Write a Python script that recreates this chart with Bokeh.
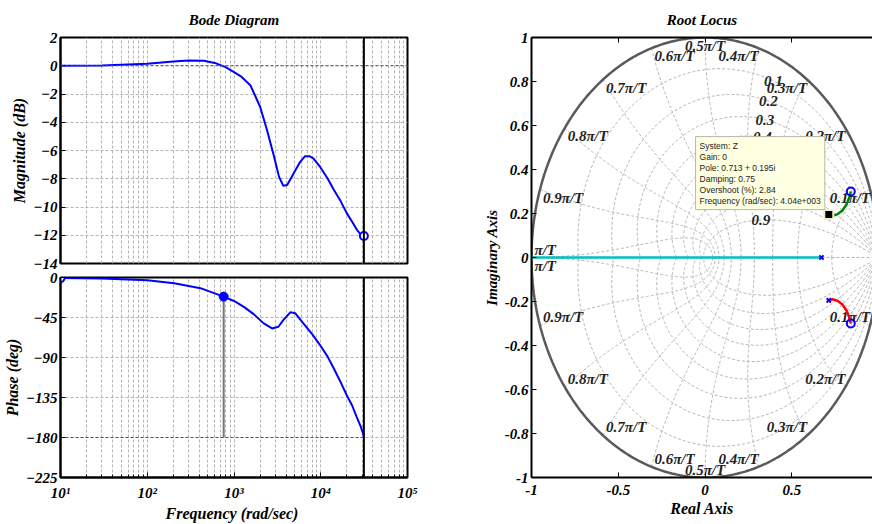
import numpy as np
from bokeh.plotting import figure
from bokeh.layouts import row, column
from bokeh.models import FixedTicker, Span, Label, LinearAxis
from bokeh.embed import file_html
from bokeh.resources import INLINE

# ---------------- Bode data ----------------
freq_mag = [10, 30, 100, 200, 300, 450, 600, 800, 1000, 1200, 1550, 2000, 2400, 2900, 3300,
            3700, 4100, 4600, 5100, 5800, 6600, 7400, 8200, 9800, 12000, 14200, 17000, 20000,
            23000, 26000, 29000, 31416]
mag_db = [0, 0.02, 0.14, 0.3, 0.38, 0.35, 0.2, -0.1, -0.45, -0.75, -1.4, -2.9, -4.55, -6.45, -7.85,
          -8.5, -8.45, -7.9, -7.4, -6.8, -6.4, -6.4, -6.55, -7.15, -7.98, -8.8, -9.6, -10.45,
          -11.05, -11.6, -11.95, -12.05]
freq_phase = [10, 30, 100, 205, 410, 760, 1000, 1300, 1700, 2200, 2750, 3250, 3700, 4450, 5100,
              6300, 8000, 9800, 12000, 14200, 17000, 20000, 23000, 26000, 29000, 31416]
phase_deg = [-0.7, -1.0, -3, -6.4, -12, -21.5, -26.4, -33, -41.5, -51.6, -57.3, -55.4, -48, -39.2,
             -40.3, -51.6, -64, -76, -89, -102.6, -118, -132.8, -144, -157, -168, -178.5]
nyquist_freq = 31416
margin_freq = 760
margin_phase = -21.5
mag_ticks = [2, 0, -2, -4, -6, -8, -10, -12, -14]
phase_ticks = [0, -45, -90, -135, -180, -225]
freq_ticks = [10, 100, 1000, 10000, 100000]
freq_tick_labels = ["10\u00b9", "10\u00b2", "10\u00b3", "10\u2074", "10\u2075"]
freq_minor = [m * d for d in [10, 100, 1000, 10000] for m in range(2, 10)]

# ---------------- Root locus data ----------------
damping_ratios = [0.1, 0.2, 0.3, 0.4, 0.5, 0.6, 0.7, 0.8, 0.9]
damping_labels = ["0.1", "0.2", "0.3", "0.4", "0.5", "0.6", "0.7", "0.8", "0.9"]
wn_fractions = [0.1, 0.2, 0.3, 0.4, 0.5, 0.6, 0.7, 0.8, 0.9, 1.0]
wn_labels = ["0.1\u03c0/T", "0.2\u03c0/T", "0.3\u03c0/T", "0.4\u03c0/T", "0.5\u03c0/T",
             "0.6\u03c0/T", "0.7\u03c0/T", "0.8\u03c0/T", "0.9\u03c0/T", "\u03c0/T"]
damping_label_wnT = 1.12
poles_re = [0.671, 0.713, 0.713]
poles_im = [0.0, 0.195, -0.195]
zeros_re = [0.84, 0.84]
zeros_im = [0.30, -0.30]
branch_re = [0.713, 0.735, 0.762, 0.792, 0.816, 0.831, 0.84]
branch_im = [0.195, 0.190, 0.196, 0.214, 0.242, 0.272, 0.30]
real_branch_re = [-1.0, 0.671]
real_branch_im = [0.0, 0.0]
tip_re, tip_im = 0.713, 0.195
tip_lines = ["System: Z", "Gain: 0", "Pole: 0.713 + 0.195i", "Damping: 0.75",
             "Overshoot (%): 2.84", "Frequency (rad/sec): 4.04e+003"]
rl_x_ticks = [-1, -0.5, 0, 0.5]
rl_x_labels = ["-1", "-0.5", "0", "0.5"]
rl_y_ticks = [-1, -0.8, -0.6, -0.4, -0.2, 0, 0.2, 0.4, 0.6, 0.8, 1]
rl_y_labels = ["-1", "-0.8", "-0.6", "-0.4", "-0.2", "0", "0.2", "0.4", "0.6", "0.8", "1"]

SERIF = "Liberation Serif"
GRID = "#b4b4b4"


def style_axes(p):
    for ax in p.axis:
        ax.major_label_text_font = SERIF
        ax.major_label_text_font_style = "bold italic"
        ax.major_label_text_font_size = "15px"
        ax.major_label_text_color = "black"
        ax.axis_label_text_font = SERIF
        ax.axis_label_text_font_style = "bold italic"
        ax.axis_label_text_font_size = "16px"
        ax.axis_label_text_color = "black"
        ax.major_tick_in = 5
        ax.major_tick_out = 0
        ax.minor_tick_in = 3
        ax.minor_tick_out = 0
        ax.axis_line_width = 2
        ax.major_tick_line_width = 1
        ax.major_label_standoff = 3
        ax.axis_label_standoff = 2
    p.title.text_font = SERIF
    p.title.text_font_style = "bold italic"
    p.title.text_font_size = "15px"
    p.title.text_color = "black"
    p.title.align = "center"
    p.title.standoff = 19


# ---------------- Magnitude ----------------
mag = figure(frame_width=347, frame_height=226, min_border_left=60, min_border_right=49,
             min_border_top=37, min_border_bottom=7, x_axis_type="log", x_range=(10, 1e5),
             y_range=(-14, 2), output_backend="svg", toolbar_location=None, title="Bode Diagram")
mag.xaxis.visible = False
mag.yaxis.ticker = FixedTicker(ticks=mag_ticks)
mag.yaxis.axis_label = "Magnitude (dB)"
mag.xgrid.ticker = FixedTicker(ticks=freq_ticks, minor_ticks=freq_minor)
mag.ygrid.ticker = FixedTicker(ticks=mag_ticks)
for g in [mag.xgrid, mag.ygrid]:
    g.grid_line_color = GRID
    g.grid_line_dash = "3 2"
mag.xgrid.minor_grid_line_color = GRID
mag.xgrid.minor_grid_line_dash = "3 2"
mag.outline_line_color = "black"
mag.outline_line_width = 2
mag.add_layout(Span(location=0, dimension="width", line_color="#555555", line_dash="3 2", line_width=1))
mag.add_layout(Span(location=nyquist_freq, dimension="height", line_color="black", line_width=2))
mag.line(freq_mag, mag_db, line_color="#0000ff", line_width=2)
mag.scatter([freq_mag[-1]], [mag_db[-1]], marker="circle", size=8, fill_color="white",
            line_color="#0000ff", line_width=2)
style_axes(mag)

# ---------------- Phase ----------------
ph = figure(frame_width=347, frame_height=200, min_border_left=60, min_border_right=49,
            min_border_top=7, min_border_bottom=45, x_axis_type="log", x_range=(10, 1e5),
            y_range=(-225, 0), output_backend="svg", toolbar_location=None)
ph.xaxis.ticker = FixedTicker(ticks=freq_ticks, minor_ticks=freq_minor)
ph.xaxis.major_label_overrides = dict(zip(freq_ticks, freq_tick_labels))
ph.xaxis.axis_label = "Frequency  (rad/sec)"
ph.yaxis.ticker = FixedTicker(ticks=phase_ticks)
ph.yaxis.axis_label = "Phase (deg)"
ph.ygrid.ticker = FixedTicker(ticks=phase_ticks)
for g in [ph.xgrid, ph.ygrid]:
    g.grid_line_color = GRID
    g.grid_line_dash = "3 2"
ph.xgrid.minor_grid_line_color = GRID
ph.xgrid.minor_grid_line_dash = "3 2"
ph.outline_line_color = "black"
ph.outline_line_width = 2
ph.line([freq_phase[0], nyquist_freq], [-180, -180], line_color="#555555", line_dash="3 2", line_width=1)
ph.add_layout(Span(location=nyquist_freq, dimension="height", line_color="black", line_width=2))
ph.line([margin_freq, margin_freq], [margin_phase, -180], line_color="#777777", line_width=2)
ph.line(freq_phase, phase_deg, line_color="#0000ff", line_width=2)
ph.scatter([freq_phase[0]], [phase_deg[0]], marker="circle", size=8, fill_color="white",
           line_color="#0000ff", line_width=2)
ph.scatter([margin_freq], [margin_phase], marker="circle", size=9, fill_color="#0000ff",
           line_color="#0000ff")
style_axes(ph)
ph.xaxis.major_label_standoff = 7
ph.xaxis.axis_label_standoff = 1

# ---------------- Root locus ----------------
rl = figure(frame_width=341, frame_height=440, min_border_left=75, min_border_right=0,
            min_border_top=37, min_border_bottom=45, x_range=(-1, 0.965), y_range=(-1, 1),
            output_backend="svg", toolbar_location=None, title="Root Locus")
rl.xgrid.visible = False
rl.ygrid.visible = False
rl.outline_line_color = None
rl.xaxis.ticker = FixedTicker(ticks=rl_x_ticks)
rl.xaxis.major_label_overrides = dict(zip(rl_x_ticks, rl_x_labels))
rl.xaxis.axis_label = "Real Axis"
rl.yaxis.ticker = FixedTicker(ticks=rl_y_ticks)
rl.yaxis.major_label_overrides = dict(zip(rl_y_ticks, rl_y_labels))
rl.yaxis.axis_label = "Imaginary Axis"
top_ax = LinearAxis(ticker=FixedTicker(ticks=rl_x_ticks))
rl.add_layout(top_ax, "above")
style_axes(rl)
for ax in rl.axis:
    ax.minor_tick_line_color = None
rl.yaxis.axis_label_text_font_size = "15px"
rl.xaxis.major_label_standoff = 7
top_ax.major_label_overrides = {t: "" for t in rl_x_ticks}
top_ax.major_label_standoff = 0

# zgrid: constant damping curves
for z in damping_ratios:
    wd = np.linspace(0, np.pi / np.sqrt(1 - z * z), 200)
    zz = np.exp(-z * wd) * np.exp(1j * wd * np.sqrt(1 - z * z))
    for s in (1, -1):
        rl.line(zz.real, s * zz.imag, line_color=GRID, line_dash="3 2", line_width=1)
# zgrid: constant natural frequency curves
for f in wn_fractions:
    wnT = f * np.pi
    zeta = np.linspace(0, 1, 200)
    zz = np.exp(wnT * (-zeta + 1j * np.sqrt(1 - zeta ** 2)))
    for s in (1, -1):
        rl.line(zz.real, s * zz.imag, line_color=GRID, line_dash="3 2", line_width=1)
rl.line([-1, 1], [0, 0], line_color=GRID, line_dash="3 2", line_width=1)

# unit circle
th = np.linspace(0, 2 * np.pi, 400)
rl.line(np.cos(th), np.sin(th), line_color="#5a5a5a", line_width=2.5)

# wn labels
groups = {}
for f, lab in zip(wn_fractions, wn_labels):
    ang = f * np.pi
    cx, cy = np.cos(ang), np.sin(ang)
    align = "right" if cx > 0.01 else ("left" if cx < -0.01 else "center")
    for s in (1, -1):
        if f == 1.0:
            base = "bottom" if s == 1 else "top"
        else:
            base = "top" if s == 1 else "bottom"
        groups.setdefault((align, base), ([], [], []))
        groups[(align, base)][0].append(cx)
        groups[(align, base)][1].append(s * cy)
        groups[(align, base)][2].append(lab)
for (align, base), (xs, ys, ts) in groups.items():
    rl.text(xs, ys, text=ts, text_align=align, text_baseline=base, text_font=SERIF,
            text_font_style="bold italic", text_font_size="15px", text_color="#222222",
            x_offset=(3 if align == "left" else 0))

# damping labels
dx, dy = [], []
for z in damping_ratios:
    zz = np.exp(damping_label_wnT * (-z + 1j * np.sqrt(1 - z * z)))
    dx.append(zz.real)
    dy.append(zz.imag)
rl.text(dx, dy, text=damping_labels, text_align="center", text_baseline="middle", text_font=SERIF,
        text_font_style="bold italic", text_font_size="15px", text_color="#222222")

# locus branches
rl.line(real_branch_re, real_branch_im, line_color="#00bfbf", line_width=2.5)
rl.line(branch_re, branch_im, line_color="#008000", line_width=2.5)
rl.line(branch_re, [-v for v in branch_im], line_color="#ff0000", line_width=2.5)
rl.scatter(poles_re, poles_im, marker="x", size=6, line_color="#0000ff", line_width=2)
rl.scatter(zeros_re, zeros_im, marker="circle", size=8, fill_color=None, line_color="#0000ff", line_width=2)
rl.scatter([tip_re], [tip_im], marker="square", size=9, fill_color="black", line_color="#f3f0c8",
           line_width=2)
rl.add_layout(Label(x=tip_re, y=tip_im, text="\n".join(tip_lines), anchor="bottom_right",
                    text_align="left", x_offset=-4, y_offset=5, background_fill_color="#ffffe1",
                    border_line_color="#b8b8a8", padding=4, text_font="Liberation Sans",
                    text_font_size="8.5px", text_line_height=1.1, text_color="#222222"))

layout = row(column(mag, ph), rl)
open("out.html", "w").write(file_html(layout, INLINE))
